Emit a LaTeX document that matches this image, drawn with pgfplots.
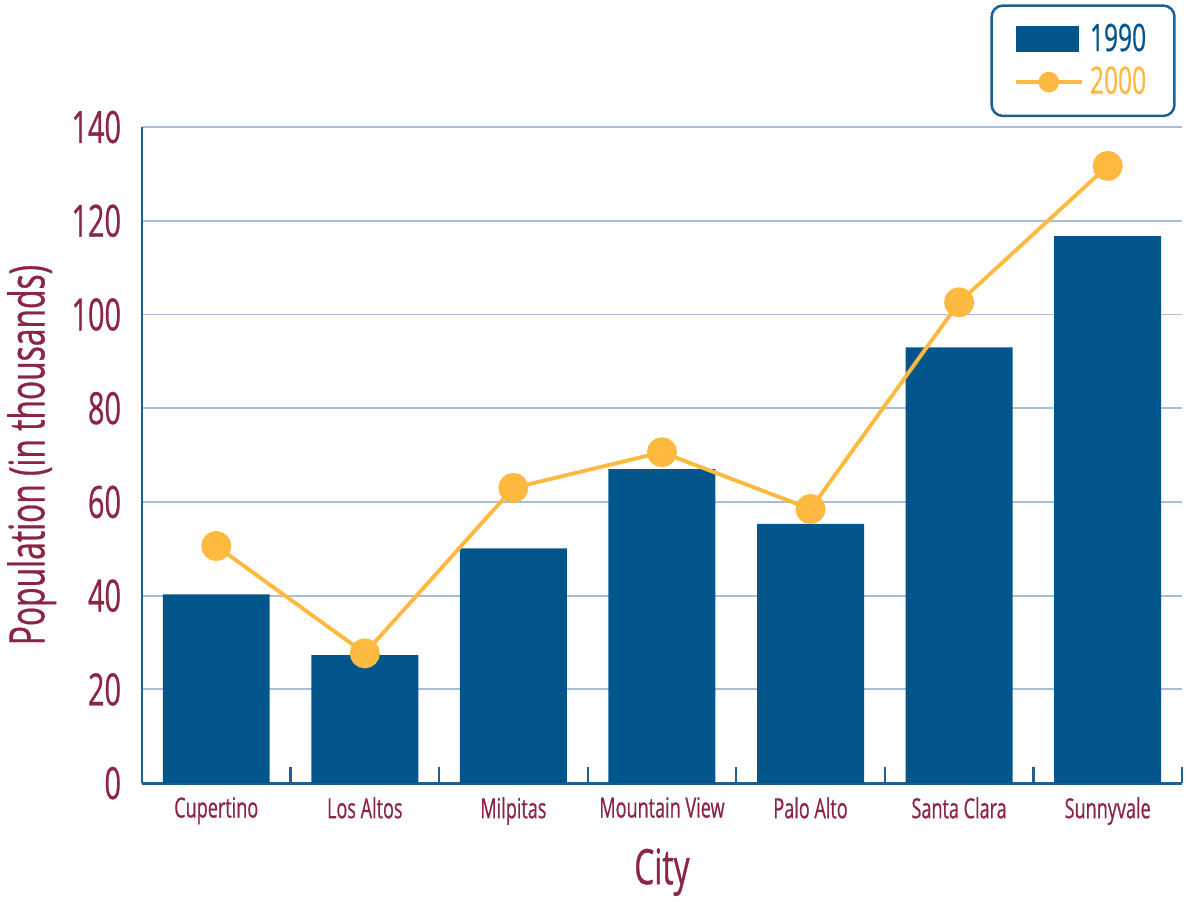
\documentclass[border=0pt]{standalone}
\usepackage{pgfplots}
\pgfplotsset{compat=1.18}
\usepackage{fontspec}
\setmainfont{Open Sans}[FakeStretch=0.65, FakeBold=0.6]
\definecolor{barblue}{RGB}{2,86,140}
\definecolor{lineorange}{RGB}{253,185,64}
\definecolor{maroon}{RGB}{139,38,66}
\definecolor{gridblue}{RGB}{168,189,216}
\definecolor{axblue}{RGB}{31,95,146}
\begin{document}
\begin{tikzpicture}
\begin{axis}[
  scale only axis,
  width=374.4pt, height=236.2pt,
  xmin=-0.5, xmax=6.5, ymin=0, ymax=140,
  axis lines*=left,
  axis line style={axblue, line width=1pt},
  xtick={0,...,6},
  xticklabels={Cupertino,Los Altos,Milpitas,Mountain View,Palo Alto,Santa Clara,Sunnyvale},
  minor xtick={0.5,1.5,...,6.5},
  major tick length=0pt,
  minor tick length=5.8pt,
  xtick align=inside,
  minor tick style={axblue, line width=0.8pt},
  ytick={0,20,...,140},
  ymajorgrids,
  major grid style={gridblue, line width=0.7pt},
  /pgf/number format/assume math mode=true,
  ticklabel style={text=maroon},
  xticklabel style={font=\fontsize{10}{12}\selectfont, yshift=-1.5pt},
  yticklabel style={font=\fontsize{16}{19}\selectfont, xshift=-4pt},
  xlabel={City}, ylabel={Population (in thousands)},
  label style={text=maroon, font=\fontsize{17.6}{21}\selectfont, inner sep=1pt},
  xlabel style={yshift=-3.9pt},
  ylabel style={yshift=1pt},
  legend style={at={(rel axis cs:0.994,1.187)}, anchor=north east,
    draw=axblue, line width=0.9pt, rounded corners=4pt,
    font=\fontsize{13.6}{16}\selectfont, inner xsep=8pt, inner ysep=4.5pt,
    row sep=0pt, legend cell align=left,
    nodes={inner xsep=2.2pt}},
  clip=false,
]
\addplot[ybar, bar width=0.72, fill=barblue, draw=none,
  legend image code/.code={\fill[barblue, sharp corners] (0pt,-4.7pt) rectangle (22.7pt,4.7pt);}]
  coordinates {(0,40.3) (1,27.3) (2,50.1) (3,67.0) (4,55.3) (5,93.0) (6,116.7)};
\addlegendentry{\textcolor{barblue}{1990}}
\addplot[lineorange, line width=1.4pt, mark=*, mark size=4.7pt,
  mark options={fill=lineorange, draw=lineorange},
  legend image code/.code={\draw[lineorange, line width=1.4pt, sharp corners] (0pt,0pt) -- (23.8pt,0pt);
    \fill[lineorange] (11.9pt,0pt) circle (3pt);}]
  coordinates {(0,50.6) (1,27.7) (2,63.0) (3,70.6) (4,58.5) (5,102.6) (6,131.7)};
\addlegendentry{\textcolor{lineorange}{2000}}
\path (rel axis cs:-0.1365,-0.1799) rectangle (rel axis cs:1.0058,1.1936);
\end{axis}
\end{tikzpicture}
\end{document}
